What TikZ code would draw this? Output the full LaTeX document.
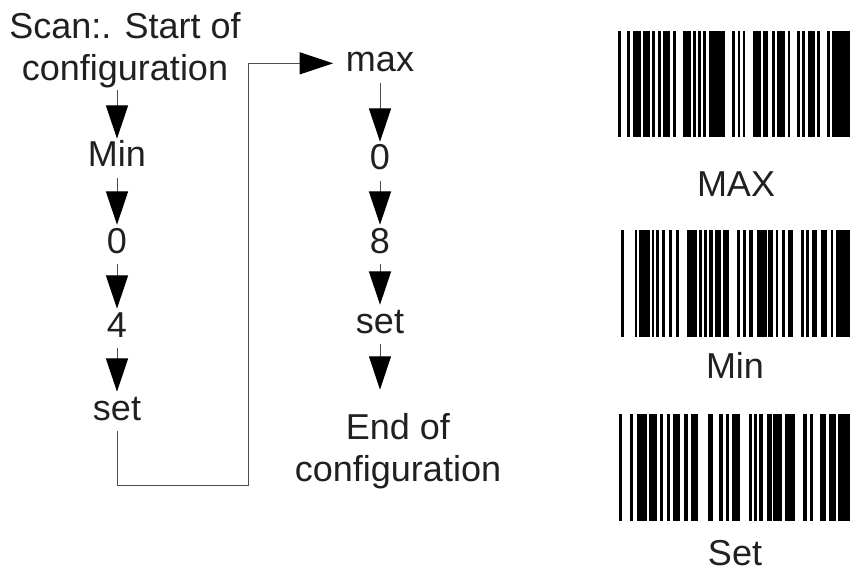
\documentclass[tikz,border=0pt]{standalone}
\usepackage{fontspec}
\setmainfont{Liberation Sans}
\usetikzlibrary{arrows.meta,positioning}
\definecolor{inkCol}{HTML}{231F20}
\definecolor{lineCol}{HTML}{4D4D4D}

\begin{document}
\begin{tikzpicture}[x=0.75pt,y=-0.75pt,
  font=\fontsize{27}{31.5}\selectfont,
  word/.style={text=inkCol,inner sep=1.5pt,text height=19.5pt,text depth=6.5pt},
  para/.style={text=inkCol,inner sep=1.5pt,align=center},
  flow/.style={-{Triangle[length=25pt,width=16.5pt,color=black]},draw=lineCol,line width=0.75pt},
  bar/.style={fill=black},
]
\useasboundingbox (0,0) rectangle (850,574);

% left chain
\node[para,anchor=south] (start) at (125,90) {Scan:. Start of\\configuration};
\node[word,anchor=base] (min) at (117,167) {Min};
\node[word,anchor=base] (zeroA) at (117,253) {0};
\node[word,anchor=base] (four) at (117,337) {4};
\node[word,anchor=base] (setA) at (117,420) {set};

% right chain
\node[word,anchor=base] (max) at (380,72) {max};
\node[word,anchor=base] (zeroB) at (380,170) {0};
\node[word,anchor=base] (eight) at (380,253) {8};
\node[word,anchor=base] (setB) at (380,333) {set};
\node[para,anchor=north] (end) at (398,411) {End of\\configuration};

\draw[flow] (start.south -| min) -- (min.north);
\draw[flow] (min) -- (zeroA);
\draw[flow] (zeroA) -- (four);
\draw[flow] (four) -- (setA);

\coordinate (bend) at (248,485);
\draw[flow,shorten >=8pt] (setA.south) |- (bend) |- (max.west);

\draw[flow] (max) -- (zeroB);
\draw[flow] (zeroB) -- (eight);
\draw[flow] (eight) -- (setB);
\draw[flow,shorten >=16pt] (setB.south) -- (setB.south |- end.north);

% barcodes
\foreach \a/\b in {618/621,627/630,633/641,643/650,652/655,658/661,663/670,673/676,
  683/691,693/696,698/701,703/706,709/725,732/735,738/740,743/745,753/761,763/768,
  772/775,777/785,788/790,797/800,802/805,808/815,817/820,827/830,832/850}
  \fill[bar] (\a,31) rectangle (\b,137);
\node[word,anchor=base] (maxLab) at (736,197) {MAX};

\foreach \a/\b in {621/624,635/637,639/650,652/654,656/659,662/665,669/672,676/679,
  687/697,699/702,704/707,709/713,715/721,723/729,737/740,743/746,749/753,757/767,
  768/773,776/778,782/785,788/793,801/804,806/809,812/817,821/827,831/833,836/850}
  \fill[bar] (\a,230) rectangle (\b,337);
\node[word,anchor=base] (minLab) at (735,378) {Min};

\foreach \a/\b in {619/622,630/633,637/647,649/657,660/663,667/670,673/680,684/688,
  691/698,708/713,719/723,726/729,732/740,749/752,754/757,759/763,767/772,773/782,
  785/795,803/807,810/813,820/826,829/836,838/850}
  \fill[bar] (\a,414) rectangle (\b,521);
\node[word,anchor=base] (setLab) at (735,565) {Set};

\end{tikzpicture}
\end{document}
